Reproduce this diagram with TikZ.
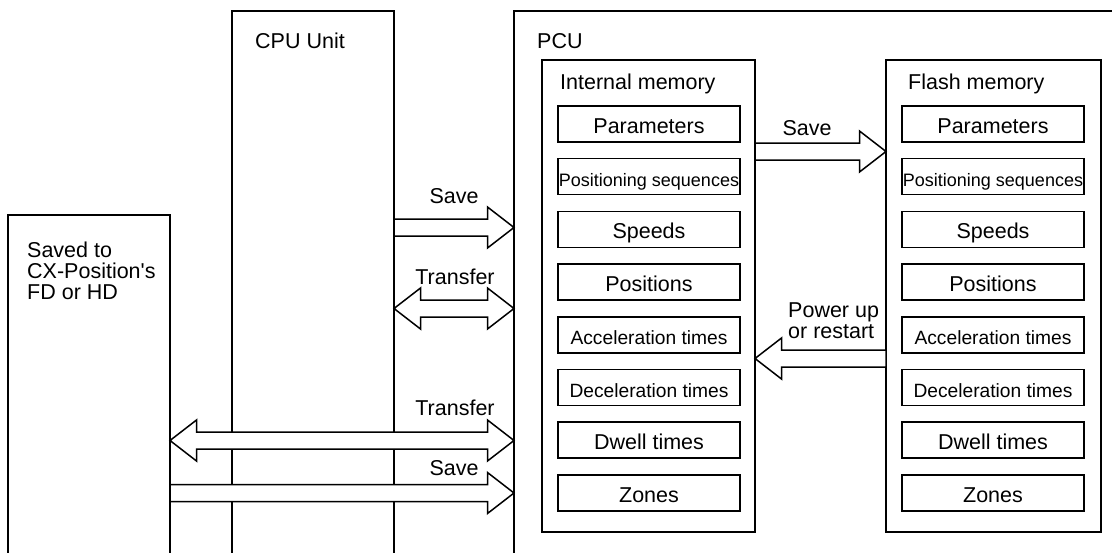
\documentclass[tikz,border=0pt]{standalone}
\usepackage{fontspec}
\setmainfont{Liberation Sans}
\usetikzlibrary{calc}
\newcommand\rarr[2]{\filldraw[barrow] ($(#1)+(0,-8.5)$) -- ($(#2)+(-26.5,-8.5)$) -- ($(#2)+(-26.5,-20.5)$) -- (#2) -- ($(#2)+(-26.5,20.5)$) -- ($(#2)+(-26.5,8.5)$) -- ($(#1)+(0,8.5)$) -- cycle;}
\newcommand\larr[2]{\filldraw[barrow] ($(#1)+(0,-8.5)$) -- ($(#2)+(26.5,-8.5)$) -- ($(#2)+(26.5,-20.5)$) -- (#2) -- ($(#2)+(26.5,20.5)$) -- ($(#2)+(26.5,8.5)$) -- ($(#1)+(0,8.5)$) -- cycle;}
\newcommand\darr[2]{\filldraw[barrow] (#1) -- ($(#1)+(26.5,-20.5)$) -- ($(#1)+(26.5,-8.5)$) -- ($(#2)+(-26.5,-8.5)$) -- ($(#2)+(-26.5,-20.5)$) -- (#2) -- ($(#2)+(-26.5,20.5)$) -- ($(#2)+(-26.5,8.5)$) -- ($(#1)+(26.5,8.5)$) -- ($(#1)+(26.5,20.5)$) -- cycle;}
\begin{document}
\begin{tikzpicture}[x=1pt,y=-1pt,
  bigbox/.style={draw, rectangle, line width=1.9pt, inner sep=0pt, outer sep=0pt},
  membox/.style={draw, rectangle, line width=1.3pt, inner sep=0pt, outer sep=0pt},
  item/.style={draw, rectangle, line width=1.5pt, inner sep=0pt, outer sep=0pt,
    minimum width=182pt, minimum height=36pt, text height=19pt, text depth=0pt,
    font=\fontsize{21.5}{24}\selectfont},
  smallitem/.style={font=\fontsize{19.2}{22}\selectfont},
  tinyitem/.style={font=\fontsize{18}{20}\selectfont},
  lbl/.style={anchor=base, inner sep=0pt, font=\fontsize{21.5}{21}\selectfont},
  ttl/.style={anchor=base west, inner sep=0pt, font=\fontsize{21.5}{21}\selectfont},
  multi/.style={anchor=north west, inner sep=0pt, align=left, font=\fontsize{21.5}{21}\selectfont},
  barrow/.style={draw, fill=white, line width=1.5pt, line join=miter}]
\useasboundingbox (0,0) rectangle (1112,552);
\fill[white] (0,0) rectangle (1112,552);
\clip (0,0) rectangle (1112,552);
% outer boxes (open beyond the picture edge)
\node[bigbox, minimum width=162pt, minimum height=385pt] (fd) at (89,407.5) {};
\node[bigbox, minimum width=162pt, minimum height=589pt] (cpu) at (313,305.5) {};
\node[bigbox, minimum width=616pt, minimum height=589pt] (pcu) at (822,305.5) {};
\node[membox, minimum width=213pt, minimum height=472pt] (im) at (648.5,296) {};
\node[membox, minimum width=215pt, minimum height=472pt] (fm) at (993.5,296) {};
% titles
\node[multi] (fdt) at (27,241.4) {Saved to\\CX-Position\textquotesingle s\\FD or HD};
\node[ttl] (cput) at (255,48) {CPU Unit};
\node[ttl] (pcut) at (537,48) {PCU};
\node[ttl] (imt) at (560,89) {Internal memory};
\node[ttl] (fmt) at (908,89) {Flash memory};
% memory items
\foreach \t/\s [count=\i] in {Parameters/item, Positioning sequences/tinyitem, Speeds/item, Positions/item, Acceleration times/smallitem, Deceleration times/smallitem, Dwell times/item, Zones/item}{
  \node[item,\s] (im\i) at (649,{124+52.7*(\i-1)}) {\t};
  \node[item,\s] (fm\i) at (993,{124+52.7*(\i-1)}) {\t};
}
% arrow rows
\path (0,227.5) coordinate (ya) (0,308.5) coordinate (yb) (0,440.5) coordinate (yc)
      (0,493) coordinate (yd) (0,151.5) coordinate (ye) (0,358.5) coordinate (yf);
\rarr{cpu.east |- ya}{pcu.west |- ya}
\darr{cpu.east |- yb}{pcu.west |- yb}
\darr{fd.east |- yc}{pcu.west |- yc}
\rarr{fd.east |- yd}{pcu.west |- yd}
\rarr{im.east |- ye}{fm.west |- ye}
\larr{fm.west |- yf}{im.east |- yf}
% arrow labels
\node[lbl] (l1) at (454,203) {Save};
\node[lbl] (l2) at (455,284) {Transfer};
\node[lbl] (l3) at (455,415) {Transfer};
\node[lbl] (l4) at (454,475) {Save};
\node[lbl] (l5) at (807,135) {Save};
\node[multi] (l6) at (788,302.6) {Power up\\or restart};
\end{tikzpicture}
\end{document}
